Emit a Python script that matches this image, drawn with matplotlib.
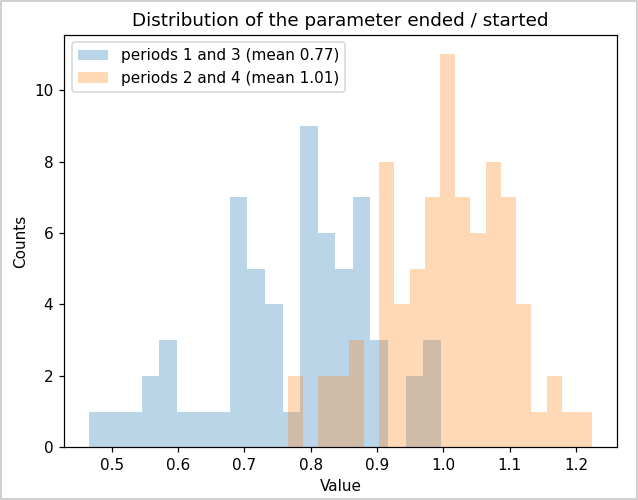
import numpy as np
import matplotlib
matplotlib.use('Agg')
import matplotlib.pyplot as plt
from matplotlib.patches import Rectangle

# bin counts (20 bins each)
blue_range = (0.4662, 0.9959)
blue_counts = [1, 1, 1, 2, 3, 1, 1, 1, 7, 5, 4, 1, 9, 6, 5, 7, 3, 0, 2, 3]

orange_range = (0.7655, 1.2240)
orange_counts = [2, 0, 2, 2, 3, 0, 8, 4, 5, 7, 11, 7, 6, 8, 7, 4, 1, 2, 1, 1]

labels = ['periods 1 and 3 (mean 0.77)', 'periods 2 and 4 (mean 1.01)']

DPI = 110
fig = plt.figure(figsize=(638 / DPI, 500 / DPI), dpi=DPI)
ax = fig.add_axes([0.1003, 0.1054, 0.8673, 0.8252])

for rng, counts, lab in [(blue_range, blue_counts, labels[0]),
                         (orange_range, orange_counts, labels[1])]:
    edges = np.linspace(rng[0], rng[1], len(counts) + 1)
    centers = (edges[:-1] + edges[1:]) / 2
    ax.hist(centers, bins=edges, weights=counts, alpha=0.3, label=lab)

ax.set_title('Distribution of the parameter ended / started')
ax.set_xlabel('Value')
ax.set_ylabel('Counts')
ax.legend(loc='upper left')

# light frame round the image
fig.patches.append(Rectangle((0.001, 0.002), 0.997, 0.996, transform=fig.transFigure,
                             fill=False, edgecolor='#c8c8c8', linewidth=1.1))

fig.savefig('out.png', dpi=DPI)
